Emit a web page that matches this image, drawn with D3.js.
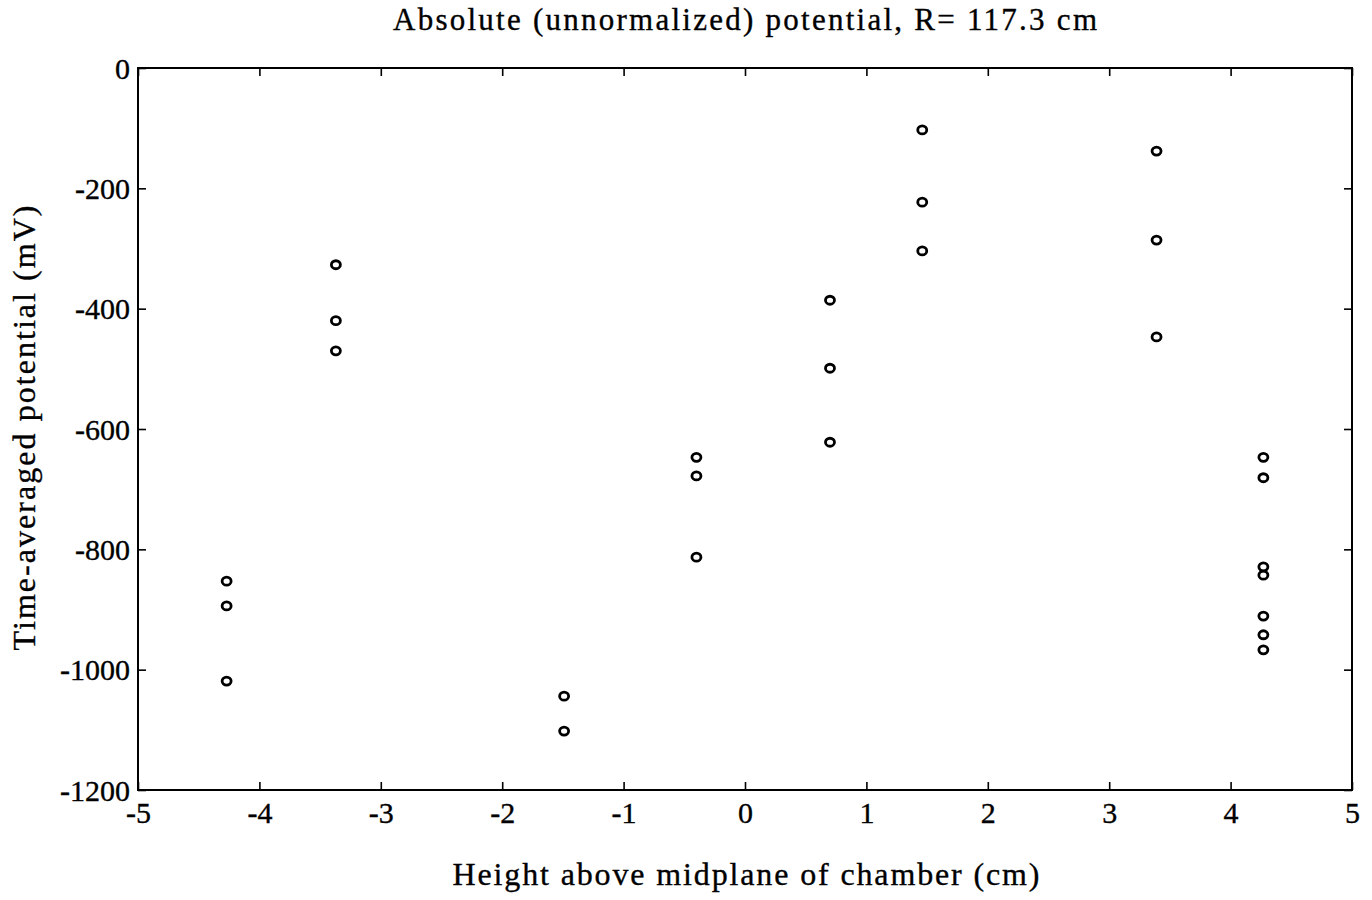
<!DOCTYPE html>
<html><head><meta charset="utf-8">
<script src="https://cdn.jsdelivr.net/npm/d3@7"></script>
<style>body{margin:0;background:#fff}svg{display:block}text{font-family:"Liberation Serif","Times New Roman",serif;fill:#000;stroke:#000;stroke-width:0.35px}</style>
</head><body><svg id="c" width="1372" height="900"></svg>
<script>
const heights = [-4.27,-4.27,-4.27, -3.37,-3.37,-3.37, -1.49,-1.49, -0.40,-0.40,-0.40, 0.70,0.70,0.70, 1.46,1.46,1.46, 3.39,3.39,3.39, 4.27,4.27,4.27,4.27,4.27,4.27,4.27];
const potentials = [-853,-894,-1019, -327,-420,-470, -1044,-1102, -647,-678,-813, -386,-499,-622, -103,-223,-304, -138,-286,-447, -647,-681,-829,-843,-911,-942,-967];
const xTicks = [-5,-4,-3,-2,-1,0,1,2,3,4,5];
const yTicks = [0,-200,-400,-600,-800,-1000,-1200];
const title = "Absolute (unnormalized) potential, R= 117.3 cm";
const xLabel = "Height above midplane of chamber (cm)";
const yLabel = "Time-averaged potential (mV)";

const svg = d3.select("#c");
const L=138, R=1352, T=68, B=790;
const x = d3.scaleLinear().domain([-5,5]).range([L,R]);
const y = d3.scaleLinear().domain([-1200,0]).range([B,T]);
const fmt = d => String(d);

const tl = 8;
const gb = svg.append("g").attr("transform",`translate(0,${B})`)
  .call(d3.axisBottom(x).tickValues(xTicks).tickSize(-tl).tickPadding(0).tickFormat(fmt));
const gt = svg.append("g").attr("transform",`translate(0,${T})`)
  .call(d3.axisTop(x).tickValues(xTicks).tickSize(-tl).tickFormat(""));
const gl = svg.append("g").attr("transform",`translate(${L},0)`)
  .call(d3.axisLeft(y).tickValues(yTicks).tickSize(-tl).tickPadding(0).tickFormat(fmt));
const gr = svg.append("g").attr("transform",`translate(${R},0)`)
  .call(d3.axisRight(y).tickValues(yTicks).tickSize(-tl).tickFormat(""));
[gb,gt,gl,gr].forEach(g=>{
  g.select(".domain").remove();
  g.attr("font-size",null).attr("font-family",null);
  g.selectAll(".tick line").attr("stroke","#000").attr("stroke-width",1.6);
  g.selectAll(".tick text").attr("font-size",30).attr("fill","#000");
});
gb.selectAll(".tick text").attr("y",33).attr("dy",null);
gl.selectAll(".tick text").attr("x",-8).attr("dy","0.34em");

svg.append("rect").attr("x",L).attr("y",T).attr("width",R-L).attr("height",B-T)
  .attr("fill","none").attr("stroke","#000").attr("stroke-width",2);

svg.append("g").selectAll("ellipse").data(heights.map((h,i)=>[h,potentials[i]]))
  .join("ellipse").attr("cx",d=>x(d[0])).attr("cy",d=>y(d[1]))
  .attr("rx",4.5).attr("ry",4).attr("fill","none").attr("stroke","#000").attr("stroke-width",2.8);

svg.append("text").attr("x",745).attr("y",30).attr("text-anchor","middle").attr("font-size",31)
  .attr("textLength",704).attr("lengthAdjust","spacing").text(title);
svg.append("text").attr("x",746).attr("y",885).attr("text-anchor","middle").attr("font-size",32)
  .attr("textLength",587).attr("lengthAdjust","spacing").text(xLabel);
svg.append("text").attr("transform","translate(35,428) rotate(-90)").attr("text-anchor","middle").attr("font-size",32)
  .attr("textLength",445).attr("lengthAdjust","spacing").text(yLabel);
</script></body></html>
